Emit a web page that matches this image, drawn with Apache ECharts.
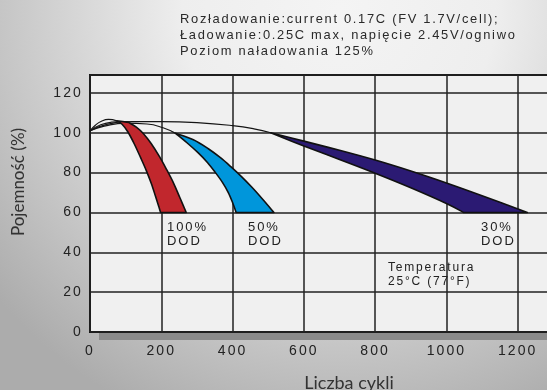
<!DOCTYPE html>
<html>
<head>
<meta charset="utf-8">
<script src="https://cdn.jsdelivr.net/npm/echarts@6/dist/echarts.min.js"></script>
<style>html,body{margin:0;padding:0;background:#fff}#c{width:547px;height:390px}</style>
</head>
<body>
<div id="c"></div>
<script>
// ---- data (x = cycles, y = capacity %) ----
const xTicks = [0, 200, 400, 600, 800, 1000, 1200];
const yTicks = [0, 20, 40, 60, 80, 100, 120];
const titleLines = [
  'Rozładowanie:current 0.17C (FV 1.7V/cell);',
  'Ładowanie:0.25C max, napięcie 2.45V/ogniwo',
  'Poziom naładowania 125%'
];
const bandLabels = ['100%\nDOD', '50%\nDOD', '30%\nDOD'];
const tempLabel = 'Temperatura\n25°C (77°F)';

// red band (100% DOD)
const redLeft  = [[75,106],[90,104.3],[106,100.5],[124,94.5],[142,87.5],[158,81],[172,74.5],[184,68],[192,63.5],[198,60]];
const redRight = [[108,105.2],[130,102.8],[150,99.5],[172,94.5],[195,88],[215,81.5],[235,74.5],[252,67.5],[270,60]];
// blue band (50% DOD)
const blueLeft  = [[240,99.7],[272,95],[303,90],[330,85],[352,80],[372,75],[388,70],[400,65],[410,60]];
const blueRight = [[240,99.7],[290,96.5],[332,92],[366,87.5],[395,83],[425,78],[455,72.5],[485,66.5],[516,60]];
// navy band (30% DOD)
const navyLeft  = [[507,100],[600,93.4],[700,86.6],[800,79.7],[900,72.4],[1000,64.5],[1048,60]];
const navyRight = [[507,100],[600,95.8],[700,91.2],[800,86.3],[900,80.8],[1000,74.8],[1100,68.4],[1227,60]];

// thin start curves from origin
const arcRed1 = [[0,101],[15,103.8],[32,105.8],[52,106.7],[75,106]];
const arcRed2 = [[0,101],[30,104],[60,105.3],[90,105.6],[108,105.2]];
const arcBlue = [[0,101],[40,103.3],[100,104.8],[160,104.4],[205,102.5],[240,99.7]];
const arcLong = [[0,101],[50,104.3],[120,105.6],[200,105.6],[300,105.1],[400,103.6],[460,102],[507,100]];

const bands = [
  {left: redLeft, right: redRight, color: '#c1272d'},
  {left: blueLeft, right: blueRight, color: '#0096db'},
  {left: navyLeft, right: navyRight, color: '#2b1a73'}
];

// letter spacing for the Arial-like texts (rendering only)
(function () {
  const proto = CanvasRenderingContext2D.prototype;
  const orig = proto.fillText;
  proto.fillText = function (t, x, y, m) {
    if ('letterSpacing' in this) {
      const f = this.font || '';
      const mm = /([\d.]+)px/.exec(f);
      let ls = 0;
      if (/Liberation Sans/.test(f) && mm) {
        const s = parseFloat(mm[1]);
        ls = (s === 12.9) ? 1.7 : s * 0.15;
      }
      this.letterSpacing = ls.toFixed(2) + 'px';
    }
    return m === undefined ? orig.call(this, t, x, y) : orig.call(this, t, x, y, m);
  };
})();

function curve(pts) {
  let d = '';
  for (let i = 0; i < pts.length - 1; i++) {
    const p0 = pts[i - 1] || pts[i], p1 = pts[i], p2 = pts[i + 1], p3 = pts[i + 2] || pts[i + 1];
    const c1 = [p1[0] + (p2[0] - p0[0]) / 6, p1[1] + (p2[1] - p0[1]) / 6];
    const c2 = [p2[0] - (p3[0] - p1[0]) / 6, p2[1] - (p3[1] - p1[1]) / 6];
    d += ' C' + c1[0] + ' ' + c1[1] + ' ' + c2[0] + ' ' + c2[1] + ' ' + p2[0] + ' ' + p2[1];
  }
  return d;
}

const chart = echarts.init(document.getElementById('c'), null, {renderer: 'canvas'});

const lineStyle = {color: '#151515', width: 1.2};
function arcSeries(data) {
  return {type: 'line', data: data, smooth: 0.5, showSymbol: false, symbol: 'none',
    lineStyle: lineStyle, z: 3, silent: true, animation: false};
}
const AF = '"Liberation Sans", Arial, sans-serif';

chart.setOption({
  animation: false,
  backgroundColor: new echarts.graphic.RadialGradient(0.62, 0.02, 1.15, [
    {offset: 0, color: '#f4f4f4'},
    {offset: 0.35, color: '#eeeeee'},
    {offset: 0.75, color: '#c6c6c6'},
    {offset: 1, color: '#acacac'}
  ]),
  grid: {
    left: 90, top: 75, width: 499, height: 257, outerBoundsMode: 'none', containLabel: false,
    show: true, backgroundColor: '#f0f0f0', borderColor: '#151515', borderWidth: 2
  },
  xAxis: {
    type: 'value', min: 0, max: 1400, interval: 200,
    axisLine: {show: false}, axisTick: {show: false},
    splitLine: {show: true, lineStyle: {color: '#222', width: 1.5}},
    axisLabel: {
      margin: 12, color: '#222', fontFamily: AF, fontSize: 14,
      formatter: v => xTicks.indexOf(v) >= 0 ? String(v) : ''
    }
  },
  yAxis: {
    type: 'value', min: 0, max: 129, interval: 20,
    axisLine: {show: false}, axisTick: {show: false},
    splitLine: {show: true, lineStyle: {color: '#222', width: 1.5}},
    axisLabel: {
      margin: 7, color: '#222', fontFamily: AF, fontSize: 14,
      formatter: v => yTicks.indexOf(v) >= 0 ? String(v) : ''
    }
  },
  series: [
    arcSeries(arcLong), arcSeries(arcBlue), arcSeries(arcRed2), arcSeries(arcRed1),
    {
      type: 'custom', coordinateSystem: 'cartesian2d', z: 4, silent: true,
      data: bands.map((b, i) => [b.left[0][0], b.left[0][1], i]),
      encode: {x: 0, y: 1},
      renderItem: function (params, api) {
        const b = bands[params.dataIndex];
        const L = b.left.map(p => api.coord(p));
        const R = b.right.map(p => api.coord(p)).reverse();
        let d = 'M' + L[0][0] + ' ' + L[0][1] + curve(L);
        d += ' L' + R[0][0] + ' ' + R[0][1] + curve(R) + ' Z';
        return {type: 'path', shape: {pathData: d},
          style: {fill: b.color, stroke: '#111', lineWidth: 1.6, lineJoin: 'round'}};
      }
    }
  ],
  graphic: [
    {type: 'rect', z: -1, shape: {x: 99, y: 83, width: 500, height: 257}, style: {fill: '#8a8a8a'}},
    {type: 'text', left: 180, top: 11, style: {text: titleLines.join('\n'), font: '12.9px ' + AF, fill: '#2a2a2a', lineHeight: 16}},
    {type: 'text', left: 167, top: 221, style: {text: bandLabels[0], font: '13px ' + AF, fill: '#222', lineHeight: 13.5}},
    {type: 'text', left: 248, top: 221, style: {text: bandLabels[1], font: '13px ' + AF, fill: '#222', lineHeight: 13.5}},
    {type: 'text', left: 481, top: 221, style: {text: bandLabels[2], font: '13px ' + AF, fill: '#222', lineHeight: 13.5}},
    {type: 'text', left: 388, top: 261, style: {text: tempLabel, font: '12px ' + AF, fill: '#222', lineHeight: 14}},
    {type: 'text', x: 19, y: 182, rotation: Math.PI / 2,
      style: {text: 'Pojemność (%)', font: '17px Lato', fill: '#333', align: 'center', verticalAlign: 'middle'}},
    {type: 'text', x: 349, y: 383,
      style: {text: 'Liczba cykli', font: '18px Lato', fill: '#333', align: 'center', verticalAlign: 'middle'}}
  ]
});
</script>
</body>
</html>
